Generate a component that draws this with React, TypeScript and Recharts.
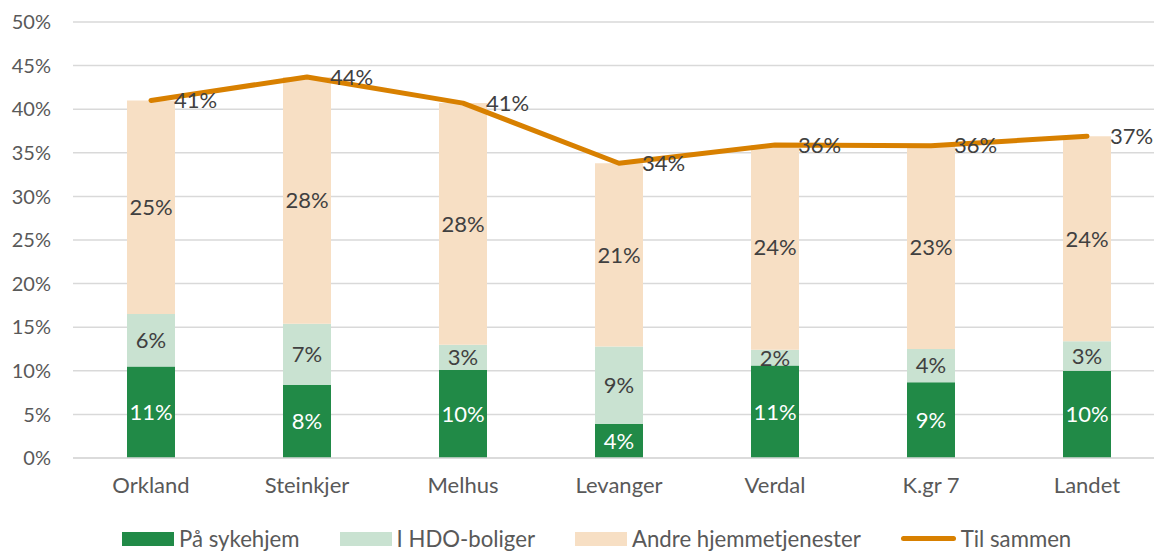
import {
  Bar,
  CartesianGrid,
  ComposedChart,
  LabelList,
  Legend,
  Line,
  XAxis,
  YAxis,
} from 'recharts';

const categories = ['Orkland', 'Steinkjer', 'Melhus', 'Levanger', 'Verdal', 'K.gr 7', 'Landet'];
const sykehjem = [10.5, 8.4, 10.1, 3.9, 10.6, 8.7, 10.0];
const hdoBoliger = [6.0, 7.0, 2.9, 8.9, 1.8, 3.8, 3.4];
const andre = [24.5, 28.3, 27.7, 21.0, 23.5, 23.3, 23.5];
const tilSammen = [41.0, 43.7, 40.7, 33.8, 35.9, 35.8, 36.9];
const yTicks = [0, 5, 10, 15, 20, 25, 30, 35, 40, 45, 50];

const data = categories.map((name, i) => ({
  name,
  sykehjem: sykehjem[i],
  hdo: hdoBoliger[i],
  andre: andre[i],
  total: tilSammen[i],
}));

const FONT = 'Lato, "Open Sans", sans-serif';
const pct = (v: any) => `${Math.round(Number(v))}%`;

const legendItems = [
  { label: 'På sykehjem', color: '#218a47', type: 'rect' },
  { label: 'I HDO-boliger', color: '#c9e2d1', type: 'rect' },
  { label: 'Andre hjemmetjenester', color: '#f7dfc4', type: 'rect' },
  { label: 'Til sammen', color: '#d88000', type: 'line' },
];

function LegendContent() {
  return (
    <div
      style={{
        display: 'flex',
        justifyContent: 'flex-start',
        gap: 40,
        paddingLeft: 122,
        position: 'relative',
        top: -3,
        fontFamily: FONT,
        fontSize: 22.2,
        color: '#595959',
        whiteSpace: 'nowrap',
      }}
    >
      {legendItems.map((it) => (
        <div key={it.label} style={{ display: 'flex', alignItems: 'center', gap: 5 }}>
          {it.type === 'rect' ? (
            <span style={{ width: 52, height: 14, background: it.color, display: 'inline-block' }} />
          ) : (
            <span
              style={{ width: 55, height: 5, background: it.color, borderRadius: 3, display: 'inline-block' }}
            />
          )}
          <span>{it.label}</span>
        </div>
      ))}
    </div>
  );
}

function TotalLabel(props: any) {
  const { x, y, value } = props;
  return (
    <text
      x={x + 23}
      y={y + 2}
      fill="#404040"
      fontSize={22}
      fontFamily={FONT}
      textAnchor="start"
      dominantBaseline="middle"
    >
      {pct(value)}
    </text>
  );
}

export default function App() {
  return (
    <div
      style={{
        position: 'absolute',
        left: 0,
        top: 0,
        width: 1154,
        height: 552,
        background: '#fff',
        overflow: 'hidden',
      }}
    >
      <ComposedChart
        width={1165}
        height={552}
        data={data}
        margin={{ top: 22, right: 0, left: 0, bottom: 0 }}
        barSize={48}
      >
        <CartesianGrid vertical={false} stroke="#d9d9d9" strokeWidth={1.5} />
        <XAxis
          dataKey="name"
          axisLine={{ stroke: '#d9d9d9', strokeWidth: 1.5 }}
          tickLine={false}
          tickMargin={13}
          height={70}
          tick={{ fill: '#595959', fontSize: 22, fontFamily: FONT }}
        />
        <YAxis
          domain={[0, 50]}
          ticks={yTicks}
          width={73}
          axisLine={false}
          tickLine={false}
          tickMargin={16}
          tickFormatter={(v) => `${v}%`}
          tick={{ fill: '#595959', fontSize: 20, fontFamily: FONT }}
        />
        <Legend verticalAlign="bottom" height={24} content={() => <LegendContent />} />
        <Bar dataKey="sykehjem" stackId="a" fill="#218a47" isAnimationActive={false}>
          <LabelList
            dataKey="sykehjem"
            position="center"
            formatter={pct}
            fill="#ffffff"
            fontSize={22}
            fontFamily={FONT}
          />
        </Bar>
        <Bar dataKey="hdo" stackId="a" fill="#c9e2d1" isAnimationActive={false}>
          <LabelList dataKey="hdo" position="center" formatter={pct} fill="#404040" fontSize={22} fontFamily={FONT} />
        </Bar>
        <Bar dataKey="andre" stackId="a" fill="#f7dfc4" isAnimationActive={false}>
          <LabelList dataKey="andre" position="center" formatter={pct} fill="#404040" fontSize={22} fontFamily={FONT} />
        </Bar>
        <Line
          type="linear"
          dataKey="total"
          stroke="#d88000"
          strokeWidth={5}
          strokeLinecap="round"
          strokeLinejoin="round"
          dot={false}
          activeDot={false}
          isAnimationActive={false}
        >
          <LabelList dataKey="total" content={<TotalLabel />} />
        </Line>
      </ComposedChart>
    </div>
  );
}
